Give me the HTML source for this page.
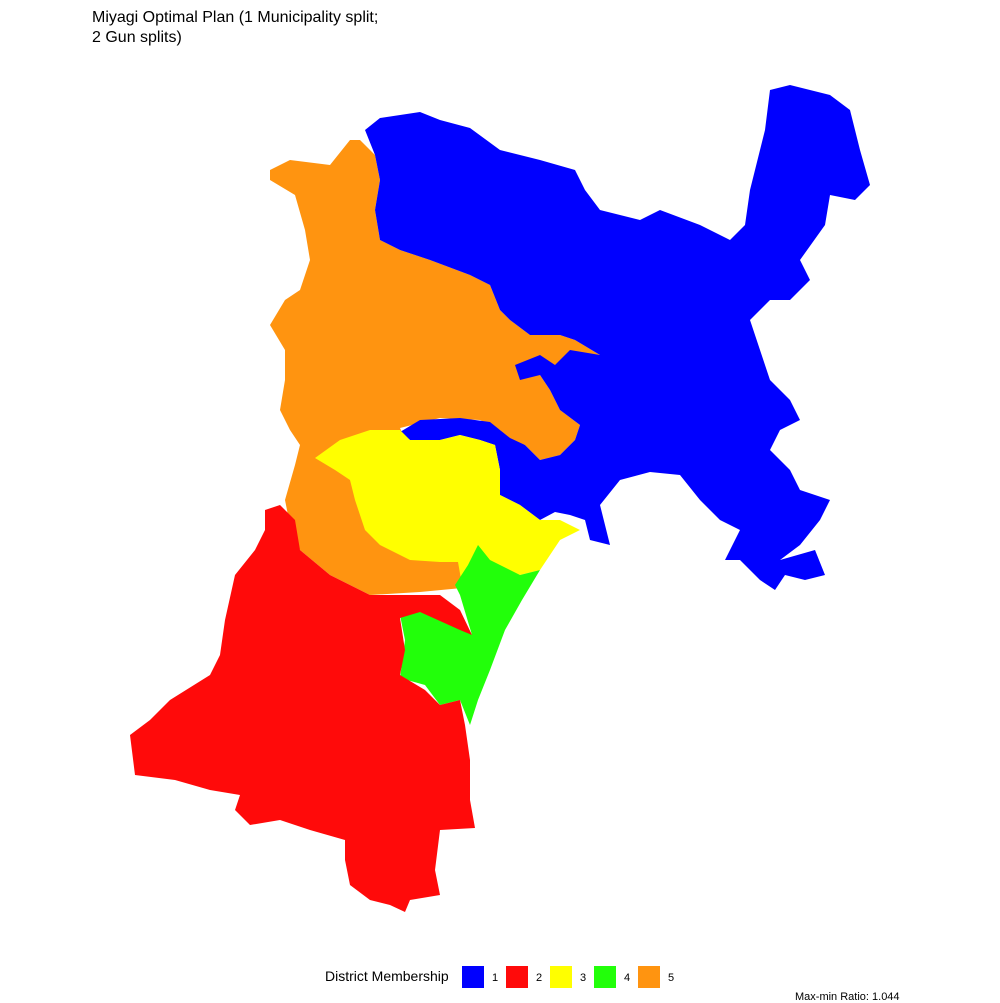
<!DOCTYPE html>
<html><head><meta charset="utf-8"><style>
html,body{margin:0;padding:0;background:#fff;}
svg{display:block;font-family:"Liberation Sans",sans-serif;}
</style></head><body>
<svg id="chart" width="1000" height="1003" viewBox="0 0 1000 1003">
<text x="92" y="22" font-size="16" fill="#000">Miyagi Optimal Plan (1 Municipality split;</text>
<text x="92" y="42" font-size="16" fill="#000">2 Gun splits)</text>
<g id="map" stroke="none">
<path fill="#FF9410" d="M270,170 L290,160 L330,165 L350,140 L360,140 L375,155 L380,180 L375,210 L380,240 L400,250 L430,260 L470,275 L490,285 L500,310 L510,320 L530,335 L560,335 L575,340 L600,355 L580,360 L560,370 L540,375 L550,390 L560,410 L580,425 L575,440 L560,455 L540,460 L525,445 L510,440 L500,430 L480,420 L440,418 L400,428 L420,470 L440,520 L470,560 L462,588 L420,592 L370,595 L330,575 L300,550 L290,525 L285,500 L295,465 L300,445 L290,430 L280,410 L285,380 L285,350 L270,325 L285,300 L300,290 L310,260 L305,230 L295,195 L270,180 Z"/>
<path fill="#0000FF" d="M365,130 L380,118 L420,112 L440,120 L470,128 L500,150 L540,160 L575,170 L585,190 L600,210 L640,220 L660,210 L700,225 L730,240 L745,225 L750,190 L765,130 L770,90 L790,85 L830,95 L850,110 L860,150 L870,185 L855,200 L830,195 L825,225 L800,260 L810,280 L790,300 L770,300 L750,320 L760,350 L770,380 L790,400 L800,420 L780,430 L770,450 L790,470 L800,490 L830,500 L820,520 L800,545 L780,560 L815,550 L825,575 L805,580 L785,575 L775,590 L760,580 L740,560 L725,560 L740,530 L720,520 L700,500 L680,475 L650,472 L620,480 L600,505 L610,545 L590,540 L585,520 L570,515 L555,512 L540,520 L520,505 L500,495 L500,470 L495,445 L480,440 L460,435 L440,440 L410,440 L400,432 L420,420 L460,418 L490,422 L510,438 L525,445 L540,460 L560,455 L575,440 L580,425 L560,410 L550,390 L540,375 L520,380 L515,365 L540,355 L555,365 L570,350 L600,355 L575,340 L560,335 L530,335 L510,320 L500,310 L490,285 L470,275 L430,260 L400,250 L380,240 L375,210 L380,180 L375,155 Z"/>
<path fill="#FFFF00" d="M315,458 L340,440 L370,430 L400,430 L410,440 L440,440 L460,435 L480,440 L495,445 L500,470 L500,495 L520,505 L540,520 L560,520 L580,530 L560,540 L550,555 L540,570 L520,575 L500,570 L480,555 L470,565 L462,585 L458,562 L440,562 L410,560 L380,545 L365,530 L355,500 L350,480 L335,470 Z"/>
<path fill="#22FF0A" d="M478,545 L490,560 L520,575 L540,570 L522,600 L505,630 L490,670 L478,700 L470,725 L460,700 L440,705 L425,685 L400,678 L405,640 L400,615 L420,610 L450,605 L462,620 L472,635 L460,595 L455,585 L468,565 Z"/>
<path fill="#FF0A0A" d="M265,510 L280,505 L295,520 L300,550 L330,575 L370,595 L400,595 L440,595 L460,610 L472,635 L460,630 L420,612 L400,618 L405,650 L400,675 L425,690 L440,705 L460,700 L465,725 L470,760 L470,800 L475,828 L440,830 L435,870 L440,895 L410,900 L405,912 L390,905 L370,900 L350,885 L345,860 L345,840 L310,830 L280,820 L250,825 L235,810 L240,795 L210,790 L175,780 L135,775 L130,735 L150,720 L170,700 L210,675 L220,655 L225,620 L235,575 L255,550 L265,530 Z"/>
</g>
<g id="legend">
<text x="325" y="981" font-size="14" fill="#000">District Membership</text>
</g>
<text x="795" y="1000" font-size="11" fill="#000">Max-min Ratio: 1.044</text>
</svg>
<script>
const districts = ["1","2","3","4","5"];
const districtColors = ["#0000FF","#FF0A0A","#FFFF00","#22FF0A","#FF9410"];
const lg = document.getElementById('legend');
const NS = 'http://www.w3.org/2000/svg';
districts.forEach(function(d,i){
  const r = document.createElementNS(NS,'rect');
  r.setAttribute('x', 462 + i*44);
  r.setAttribute('y', 966);
  r.setAttribute('width', 22);
  r.setAttribute('height', 22);
  r.setAttribute('fill', districtColors[i]);
  
  
  lg.appendChild(r);
  const t = document.createElementNS(NS,'text');
  t.setAttribute('x', 492 + i*44);
  t.setAttribute('y', 981);
  t.setAttribute('font-size', 11);
  t.textContent = d;
  
  
  lg.appendChild(t);
});
</script>
</body></html>
